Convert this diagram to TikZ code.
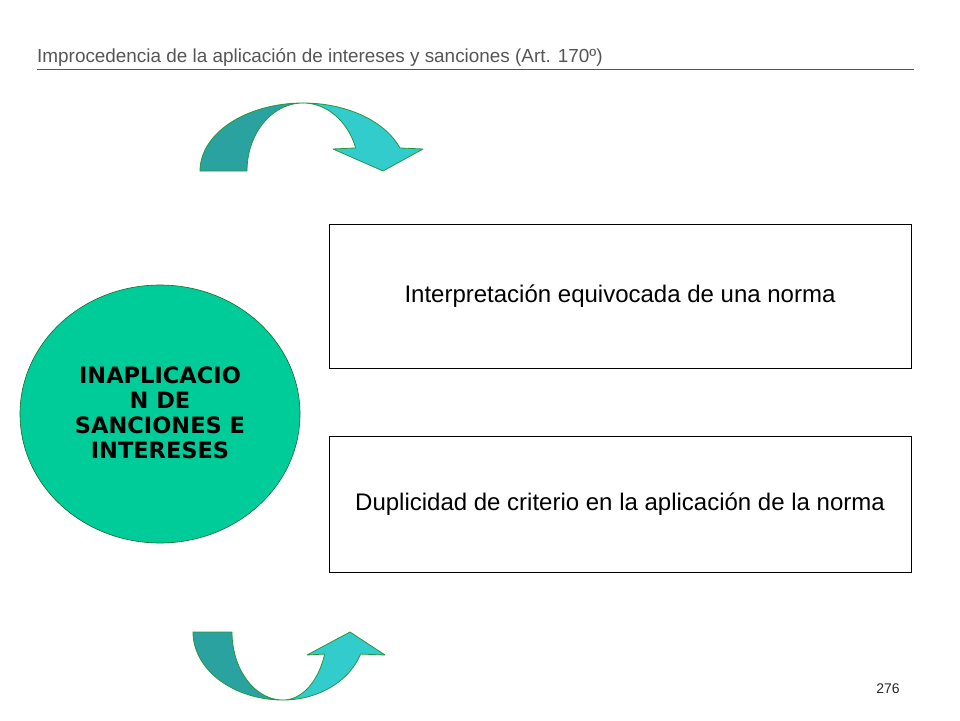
\documentclass[tikz,border=0pt]{standalone}
\usepackage{fontspec}
\setmainfont{Liberation Sans}
\newfontfamily\verd{DejaVu Sans}
\usetikzlibrary{shapes.geometric}
\definecolor{darkteal}{RGB}{42,163,160}
\definecolor{lightteal}{RGB}{51,204,204}
\definecolor{edgegreen}{RGB}{40,150,60}
\definecolor{circfill}{RGB}{0,204,153}
\definecolor{titlegray}{RGB}{85,85,85}
\tikzset{
  band/.style={draw=edgegreen,line width=0.8pt,line join=round},
  textbox/.style={draw=black,line width=0.6pt,minimum width=582pt,inner sep=0pt,font=\fontsize{24}{28}\selectfont},
}
\begin{document}
\begin{tikzpicture}[x=1pt,y=-1pt]
\useasboundingbox (0,0) rectangle (960,720);
% title
\node[anchor=base west,inner sep=0pt,text=titlegray,font=\fontsize{18.9}{22}\selectfont] (title) at (37,62) {Improcedencia de la aplicación de intereses y sanciones (Art. 170º)};
\coordinate (rl) at (37,69);
\coordinate (rr) at (914,69);
\draw[titlegray,line width=0.8pt] (rl) -- (rr);
% top curved arrow
\filldraw[band,fill=darkteal] plot[domain=180:90,samples=40] ({303+103*cos(\x)},{171-68*sin(\x)}) -- plot[domain=90:180,samples=40] ({303+56*cos(\x)},{171-68*sin(\x)}) -- cycle;
\filldraw[band,fill=lightteal] plot[domain=90:19.8,samples=40] ({303+103*cos(\x)},{171-68*sin(\x)}) -- (423,149) -- (383,171) -- (333,149) -- plot[domain=19.8:90,samples=40] ({303+56*cos(\x)},{171-68*sin(\x)}) -- cycle;
% bottom curved arrow
\filldraw[band,fill=darkteal] plot[domain=180:90,samples=40] ({283+90*cos(\x)},{632+68*sin(\x)}) -- plot[domain=90:180,samples=40] ({283+51*cos(\x)},{632+68*sin(\x)}) -- cycle;
\filldraw[band,fill=lightteal] plot[domain=90:18.9,samples=40] ({283+82*cos(\x)},{632+68*sin(\x)}) -- (385,655) -- (350,632) -- (307,655) -- plot[domain=18.9:90,samples=40] ({283+44*cos(\x)},{632+68*sin(\x)}) -- cycle;
% circle
\node[ellipse,draw=edgegreen!70!black,line width=0.6pt,fill=circfill,minimum width=280pt,minimum height=258pt,inner sep=0pt] (circ) at (160,414) {};
\node[align=center,font=\verd\bfseries\fontsize{22.5}{25}\selectfont] (ctext) at (160,413) {INAPLICACIO\\N DE\\SANCIONES E\\INTERESES};
% boxes
\node[textbox,minimum height=144pt] (b1) at (620,296) {Interpretación equivocada de una norma};
\node[textbox,minimum height=136pt] (b2) at (620,504) {Duplicidad de criterio en la aplicación de la norma};
% page number
\node[font=\fontsize{14}{16}\selectfont,text=black!85] (pg) at (888,689) {276};
\end{tikzpicture}
\end{document}
